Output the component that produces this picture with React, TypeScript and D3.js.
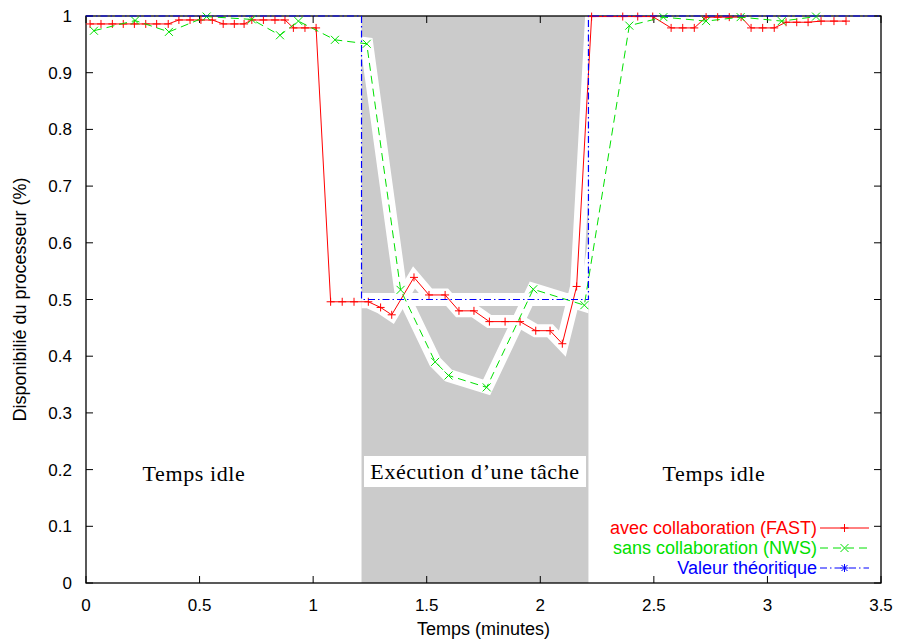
import React from 'react';
import * as d3 from 'd3';

// ---- data ----
const fastTime = [0.018,0.066,0.116,0.164,0.213,0.263,0.311,0.362,0.409,0.458,0.506,0.556,0.604,0.653,0.696,0.730,0.781,0.832,0.876,0.913,0.964,1.013,1.077,1.128,1.180,1.243,1.297,1.346,1.444,1.510,1.581,1.642,1.708,1.776,1.845,1.911,1.980,2.043,2.097,2.160,2.226,2.363,2.429,2.495,2.576,2.627,2.678,2.730,2.781,2.832,2.884,2.928,2.979,3.030,3.082,3.129,3.179,3.236,3.293,3.346];
const fastValue = [0.986,0.986,0.986,0.986,0.986,0.986,0.986,0.986,0.993,0.993,0.993,0.993,0.986,0.986,0.986,0.993,0.993,0.993,0.993,0.979,0.979,0.979,0.496,0.496,0.496,0.496,0.486,0.473,0.539,0.508,0.508,0.480,0.480,0.461,0.461,0.461,0.445,0.445,0.422,0.523,0.999,0.999,0.999,0.999,0.979,0.979,0.979,0.998,0.998,0.998,0.998,0.979,0.979,0.979,0.989,0.989,0.989,0.991,0.991,0.991];

const nwsTime = [0.035,0.216,0.365,0.531,0.730,0.854,0.935,1.096,1.236,1.385,1.537,1.596,1.764,1.969,2.194,2.392,2.542,2.730,2.882,3.063,3.214];
const nwsValue = [0.974,0.992,0.972,0.999,0.994,0.966,0.991,0.958,0.951,0.517,0.390,0.366,0.345,0.518,0.490,0.983,0.998,0.991,0.998,0.991,0.999];

const theoTime = [0, 1.213, 1.213, 2.212, 2.212, 3.5];
const theoValue = [1, 1, 0.5, 0.5, 1, 1];

const taskStart = 1.213;
const taskEnd = 2.212;

const xTicks = [0, 0.5, 1, 1.5, 2, 2.5, 3, 3.5];
const yTicks = [0, 0.1, 0.2, 0.3, 0.4, 0.5, 0.6, 0.7, 0.8, 0.9, 1];

const seriesLabels = ['avec collaboration (FAST)', 'sans collaboration (NWS)', 'Valeur théoritique'];
const xLabel = 'Temps (minutes)';
const yLabel = 'Disponibilié du processeur (%)';
const idleLabel = 'Temps idle';
const taskLabel = 'Exécution d\u2019une tâche';

const RED = '#ff0000';
const GREEN = '#00e000';
const BLUE = '#0000ff';

const W = 900, H = 641;
const L = 86, R = 881, T = 16, B = 583;

export default function App() {
  const x = d3.scaleLinear().domain([0, 3.5]).range([L, R]);
  const y = d3.scaleLinear().domain([0, 1]).range([B, T]);
  const line = d3.line<[number, number]>().x(d => x(d[0])).y(d => y(d[1]));
  const fast: [number, number][] = fastTime.map((t, i) => [t, fastValue[i]]);
  const nws: [number, number][] = nwsTime.map((t, i) => [t, nwsValue[i]]);
  const theo: [number, number][] = theoTime.map((t, i) => [t, theoValue[i]]);
  const theoHalo: [number, number][] = theo.slice(2, 4);
  const sans = '"Liberation Sans", Arial, sans-serif';
  const serif = '"Liberation Serif", "Times New Roman", serif';
  const fs = 17;
  const fsBig = 18;

  const plus = (cx: number, cy: number, s: number, c: string, k: string) => (
    <path key={k} d={`M${cx - s},${cy}H${cx + s}M${cx},${cy - s}V${cy + s}`} stroke={c} strokeWidth={1} fill="none" />
  );
  const cross = (cx: number, cy: number, s: number, c: string, k: string) => (
    <path key={k} d={`M${cx - s},${cy - s}L${cx + s},${cy + s}M${cx - s},${cy + s}L${cx + s},${cy - s}`} stroke={c} strokeWidth={1} fill="none" />
  );
  const star = (cx: number, cy: number, s: number, c: string, k: string) => (
    <path key={k} d={`M${cx - s},${cy}H${cx + s}M${cx},${cy - s}V${cy + s}M${cx - s * 0.75},${cy - s * 0.75}L${cx + s * 0.75},${cy + s * 0.75}M${cx - s * 0.75},${cy + s * 0.75}L${cx + s * 0.75},${cy - s * 0.75}`} stroke={c} strokeWidth={1} fill="none" />
  );

  const legendY = [528, 548, 568];
  const legX1 = 820, legX2 = 869, legText = 817;

  return (
    <svg width={W} height={H} style={{ position: 'absolute', left: 0, top: 0, background: '#fff' }}>
      <defs>
        <clipPath id="task">
          <rect x={x(taskStart)} y={T} width={x(taskEnd) - x(taskStart)} height={B - T} />
        </clipPath>
      </defs>
      <rect x={0} y={0} width={W} height={H} fill="#fff" />
      {/* shaded task region */}
      <rect x={x(taskStart)} y={T} width={x(taskEnd) - x(taskStart)} height={B - T} fill="#cbcbcb" />
      <g clipPath="url(#task)" fill="none" stroke="#fff" strokeWidth={13} strokeLinejoin="miter" strokeMiterlimit={10}>
        <path d={line(fast) || ''} />
        <path d={line(nws) || ''} />
        <path d={line(theoHalo) || ''} />
      </g>
      {/* task label box */}
      <rect x={364} y={456} width={222} height={31} fill="#fff" />
      <text x={475} y={479} textAnchor="middle" fontFamily={serif} fontSize={22} letterSpacing={0.6}>{taskLabel}</text>
      <text x={194} y={481} textAnchor="middle" fontFamily={serif} fontSize={22} letterSpacing={0.6}>{idleLabel}</text>
      <text x={714} y={481} textAnchor="middle" fontFamily={serif} fontSize={22} letterSpacing={0.6}>{idleLabel}</text>

      {/* ticks */}
      <g stroke="#000" strokeWidth={1}>
        {xTicks.map((t, i) => (
          <g key={'xt' + i}>
            <line x1={x(t)} x2={x(t)} y1={B} y2={B - 7} />
            <line x1={x(t)} x2={x(t)} y1={T} y2={T + 7} />
          </g>
        ))}
        {yTicks.map((t, i) => (
          <g key={'yt' + i}>
            <line x1={L} x2={L + 7} y1={y(t)} y2={y(t)} />
            <line x1={R} x2={R - 7} y1={y(t)} y2={y(t)} />
          </g>
        ))}
      </g>
      <rect x={L} y={T} width={R - L} height={B - T} fill="none" stroke="#000" strokeWidth={1.3} />
      {xTicks.map((t, i) => (
        <text key={'xl' + i} x={x(t)} y={B + 28} textAnchor="middle" fontFamily={sans} fontSize={fs}>{String(t)}</text>
      ))}
      {yTicks.map((t, i) => (
        <text key={'yl' + i} x={L - 14} y={y(t) + 6} textAnchor="end" fontFamily={sans} fontSize={fs}>{String(t)}</text>
      ))}
      <text x={(L + R) / 2} y={635} textAnchor="middle" fontFamily={sans} fontSize={fsBig}>{xLabel}</text>
      <text transform={`translate(26,${(T + B) / 2}) rotate(-90)`} textAnchor="middle" fontFamily={sans} fontSize={fsBig}>{yLabel}</text>

      {/* series */}
      <path d={line(fast) || ''} fill="none" stroke={RED} strokeWidth={1} />
      {fast.map((d, i) => plus(x(d[0]), y(d[1]), 4, RED, 'fp' + i))}
      <path d={line(nws) || ''} fill="none" stroke={GREEN} strokeWidth={1} strokeDasharray="8,5" />
      {nws.map((d, i) => cross(x(d[0]), y(d[1]), 4, GREEN, 'np' + i))}
      <path d={line(theo) || ''} fill="none" stroke={BLUE} strokeWidth={1.2} strokeDasharray="7,3,1.5,3" />

      {/* legend */}
      <text x={legText} y={legendY[0] + 6} textAnchor="end" fontFamily={sans} fontSize={fsBig} fill={RED}>{seriesLabels[0]}</text>
      <line x1={legX1} x2={legX2} y1={legendY[0]} y2={legendY[0]} stroke={RED} />
      {plus((legX1 + legX2) / 2, legendY[0], 4, RED, 'lg0')}
      <text x={legText} y={legendY[1] + 6} textAnchor="end" fontFamily={sans} fontSize={fsBig} fill={GREEN}>{seriesLabels[1]}</text>
      <line x1={legX1} x2={legX2} y1={legendY[1]} y2={legendY[1]} stroke={GREEN} strokeDasharray="8,5" />
      {cross((legX1 + legX2) / 2, legendY[1], 4, GREEN, 'lg1')}
      <text x={legText} y={legendY[2] + 6} textAnchor="end" fontFamily={sans} fontSize={fsBig} fill={BLUE}>{seriesLabels[2]}</text>
      <line x1={legX1} x2={legX2} y1={legendY[2]} y2={legendY[2]} stroke={BLUE} strokeDasharray="7,3,1.5,3" />
      {star((legX1 + legX2) / 2, legendY[2], 4, BLUE, 'lg2')}
    </svg>
  );
}
